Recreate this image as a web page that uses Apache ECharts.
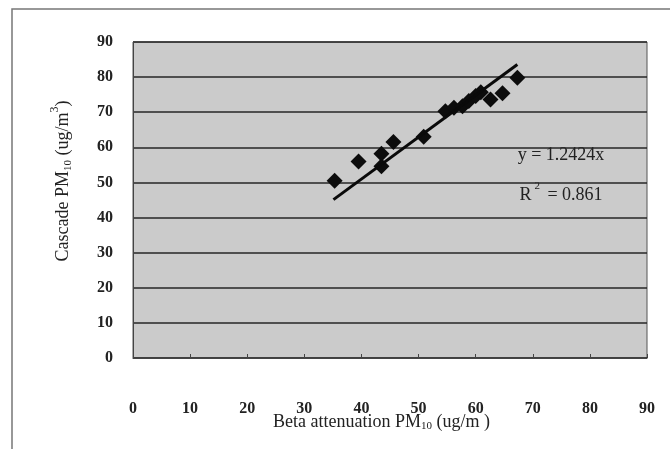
<!DOCTYPE html>
<html>
<head>
<meta charset="utf-8">
<script src="https://cdn.jsdelivr.net/npm/echarts@6/dist/echarts.min.js"></script>
<style>
  html, body { margin: 0; padding: 0; background: #ffffff; }
  #chart { width: 670px; height: 449px; }
</style>
</head>
<body>
<div id="chart"></div>
<script>
// Paired PM10 readings: beta attenuation (x) vs cascade impactor (y), ug/m3
const betaPM10 = [35.3, 39.5, 43.5, 43.5, 45.6, 50.9, 54.7, 56.2, 57.7, 58.8, 60.0, 60.9, 62.6, 64.7, 67.3];
const cascadePM10 = [50.5, 56.0, 54.6, 58.2, 61.5, 63.0, 70.3, 71.3, 71.7, 73.2, 74.6, 75.7, 73.6, 75.4, 79.8];

// Fitted trend line endpoints
const trendX = [35.1, 67.3];
const trendY = [45.1, 83.6];

// Axis tick values
const xTicks = [0, 10, 20, 30, 40, 50, 60, 70, 80, 90];
const yTicks = [0, 10, 20, 30, 40, 50, 60, 70, 80, 90];

const fitEquation = 'y = 1.2424x';
const fitR2 = '0.861';

const serif = '"Liberation Serif", "Times New Roman", serif';

const points = betaPM10.map((x, i) => [x, cascadePM10[i]]);
const trend = trendX.map((x, i) => [x, trendY[i]]);

const chart = echarts.init(document.getElementById('chart'), null, { renderer: 'canvas' });

chart.setOption({
  backgroundColor: '#ffffff',
  animation: false,
  grid: {
    left: 133, right: 23, top: 42, bottom: 91,
    show: true,
    backgroundColor: '#cbcbcb',
    borderColor: '#555555',
    borderWidth: 1
  },
  xAxis: {
    type: 'value',
    min: xTicks[0],
    max: xTicks[xTicks.length - 1],
    interval: 10,
    axisLine: { show: true, onZero: false, lineStyle: { color: '#444444', width: 1 } },
    axisTick: { show: true, inside: true, length: 4, lineStyle: { color: '#444444' } },
    splitLine: { show: false },
    axisLabel: {
      margin: 43,
      fontFamily: serif,
      fontSize: 16,
      fontWeight: 'bold',
      color: '#222222'
    }
  },
  yAxis: {
    type: 'value',
    min: yTicks[0],
    max: yTicks[yTicks.length - 1],
    interval: 10,
    axisLine: { show: true, lineStyle: { color: '#444444', width: 1 } },
    axisTick: { show: false },
    splitLine: { show: true, lineStyle: { color: '#262626', width: 1.6 } },
    axisLabel: {
      margin: 20,
      fontFamily: serif,
      fontSize: 16,
      fontWeight: 'bold',
      color: '#222222',
      padding: [6, 0, 0, 0]
    }
  },
  series: [
    {
      type: 'scatter',
      data: points,
      symbol: 'diamond',
      symbolSize: 16,
      itemStyle: { color: '#0c0c0c', opacity: 1 },
      z: 3
    },
    {
      type: 'line',
      data: trend,
      symbol: 'none',
      lineStyle: { color: '#0a0a0a', width: 3 },
      z: 4
    }
  ],
  graphic: [
    {
      type: 'rect',
      shape: { x: 12, y: 9, width: 700, height: 500 },
      style: { fill: 'none', stroke: '#777777', lineWidth: 1.5 },
      silent: true,
      z: -10
    },
    {
      type: 'text',
      x: 63, y: 181,
      rotation: Math.PI / 2,
      style: {
        text: 'Cascade PM{sub|10} (ug/m{sup|3})',
        fontFamily: serif,
        fontSize: 18,
        fill: '#222222',
        align: 'center',
        verticalAlign: 'middle',
        lineHeight: 28,
        rich: {
          sub: { fontSize: 11, fontFamily: serif, fill: '#222222', verticalAlign: 'bottom', lineHeight: 28, padding: [0, 0, 3, 0] },
          sup: { fontSize: 12, fontFamily: serif, fill: '#222222', verticalAlign: 'top', lineHeight: 28 }
        }
      }
    },
    {
      type: 'text',
      x: 273, y: 412,
      style: {
        text: 'Beta attenuation PM{sub|10} (ug/m )',
        fontFamily: serif,
        fontSize: 18,
        fill: '#222222',
        align: 'left',
        verticalAlign: 'top',
        lineHeight: 20,
        rich: {
          sub: { fontSize: 11, fontFamily: serif, fill: '#222222', verticalAlign: 'bottom', lineHeight: 20 }
        }
      }
    },
    {
      type: 'text',
      x: 561, y: 155,
      style: {
        text: fitEquation,
        fontFamily: serif,
        fontSize: 18,
        fill: '#222222',
        align: 'center',
        verticalAlign: 'middle'
      }
    },
    {
      type: 'text',
      x: 561, y: 195,
      style: {
        text: 'R{sup|2} = ' + fitR2,
        fontFamily: serif,
        fontSize: 18,
        fill: '#222222',
        align: 'center',
        verticalAlign: 'middle',
        lineHeight: 28,
        rich: {
          sup: { fontSize: 11, fontFamily: serif, fill: '#222222', verticalAlign: 'top', lineHeight: 28, padding: [0, 3, 0, 3] }
        }
      }
    }
  ]
});
</script>
</body>
</html>
